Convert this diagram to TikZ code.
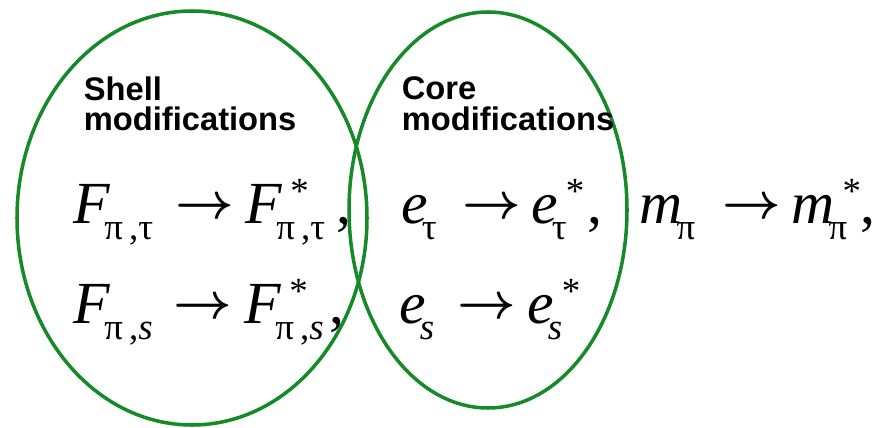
\documentclass[tikz,border=0pt]{standalone}
\usepackage{fix-cm}
\usepackage{fontspec}
\setmainfont{Liberation Serif}
\setsansfont{Liberation Sans}

\definecolor{verde}{RGB}{22,138,40}
% grandezza con pedice, e con asterisco e pedice
\newcommand{\qta}[2]{\textit{#1}\kern-0.1em%
  \raisebox{-0.27em}{\fontsize{21}{21}\selectfont #2}}
\newcommand{\qtastar}[2]{\textit{#1}\kern-0.1em%
  \rlap{\hspace{8pt}\raisebox{0.32em}{\fontsize{21}{21}\selectfont *}}%
  \raisebox{-0.27em}{\fontsize{21}{21}\selectfont #2}}

\begin{document}
\begin{tikzpicture}[
  insieme/.style={draw=verde, line width=2pt},
  titolo/.style={font=\fontsize{18.6}{17.6}\selectfont\sffamily\bfseries,
                 align=left, anchor=north west, inner sep=0pt},
  formula/.style={font=\fontsize{34}{40}\selectfont, anchor=base west, inner sep=0pt},
  freccia/.style={font=\fontsize{29}{29}\selectfont\boldmath, anchor=base west, inner sep=0pt}
]
\useasboundingbox (0,0) rectangle (17.64,8.54);

%--------------------------------------------------------------
% Insiemi: modifiche del guscio e del nucleo
%--------------------------------------------------------------
\draw[insieme] (3.84,4.18) ellipse (3.50 and 4.14);
\draw[insieme] (9.76,4.34) ellipse (2.78 and 3.96);

\node[titolo] (shell) at (1.67,7.02) {Shell\\modifications};
\node[titolo] (core)  at (8.03,7.02) {Core\\modifications};

%--------------------------------------------------------------
% Prima riga
%--------------------------------------------------------------
\node[formula] (Ft)  at (1.46,4.08)  {\qta{F}{π\,,τ}};
\node[freccia] (aFt) at (3.50,4.17)  {$\rightarrow$};
\node[formula] (Fts) at (4.90,4.08)  {\qtastar{F}{π\,,τ}};
\node[formula] (cFt) at (6.72,4.08)  {,};
\node[formula] (et)  at (8.02,4.08)  {\qta{e}{τ}};
\node[freccia] (aet) at (9.24,4.17)  {$\rightarrow$};
\node[formula] (ets) at (10.62,4.08) {\qtastar{e}{τ}};
\node[formula] (cet) at (11.74,4.08) {,};
\node[formula] (mp)  at (12.78,4.08) {\qta{m}{π}};
\node[freccia] (amp) at (14.44,4.17) {$\rightarrow$};
\node[formula] (mps) at (15.82,4.08) {\qtastar{m}{π}};
\node[formula] (cmp) at (17.20,4.08) {,};

%--------------------------------------------------------------
% Seconda riga
%--------------------------------------------------------------
\node[formula] (Fs)  at (1.46,2.08)  {\qta{F}{π\,,\textit{s}}};
\node[freccia] (aFs) at (3.46,2.17)  {$\rightarrow$};
\node[formula] (Fss) at (4.88,2.08)  {\qtastar{F}{π\,,\textit{s}}};
\node[formula] (cFs) at (6.58,2.08)  {,};
\node[formula] (es)  at (7.98,2.08)  {\qta{e}{\textit{s}}};
\node[freccia] (aes) at (9.14,2.17)  {$\rightarrow$};
\node[formula] (ess) at (10.54,2.08) {\qtastar{e}{\textit{s}}};

\end{tikzpicture}
\end{document}
